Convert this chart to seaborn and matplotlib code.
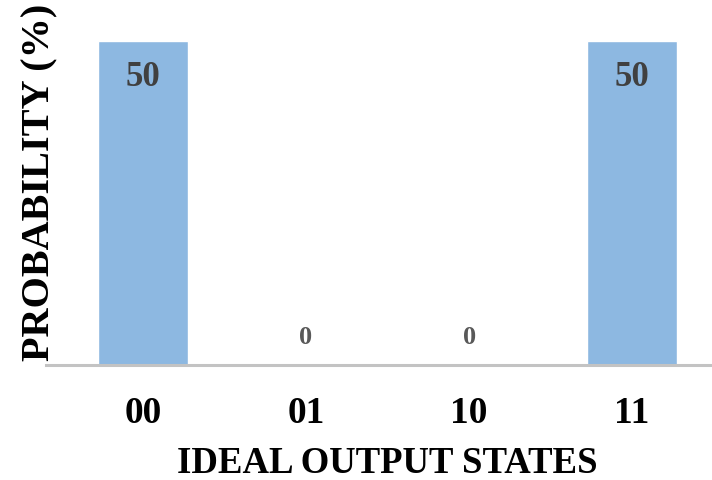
import matplotlib
matplotlib.use("Agg")
import matplotlib.pyplot as plt
import seaborn as sns
import pandas as pd

# Measured outcome distribution for a two-qubit Bell-state circuit
states = ["00", "01", "10", "11"]
probability = [50, 0, 0, 50]

bar_color = "#8DB8E1"
label_dark = "#404040"
label_gray = "#595959"
axis_gray = "#C3C3C3"

sns.set_theme(style="white")
plt.rcParams["font.family"] = ["Liberation Serif", "DejaVu Serif"]
plt.rcParams["font.weight"] = "bold"

df = pd.DataFrame({"state": states, "prob": probability})

fig = plt.figure(figsize=(7.12, 4.8), dpi=100)
ax = fig.add_axes([46 / 712, 115 / 480, 666 / 712, 324 / 480])

sns.barplot(data=df, x="state", y="prob", color=bar_color, width=0.55,
            saturation=1, ax=ax)

ax.set_xlim(-0.595, 3.49)
ax.set_ylim(0, 50)

# value labels: inside the top of tall bars, just above the axis for empty ones
for patch, val in zip(ax.patches, probability):
    cx = patch.get_x() + patch.get_width() / 2
    if val > 0:
        ax.annotate(f"{val}", (cx, val), xytext=(0, -37), textcoords="offset pixels",
                    ha="center", va="center", fontsize=25, fontweight="bold",
                    color=label_dark)
    else:
        ax.annotate(f"{val}", (cx, val), xytext=(0, 27), textcoords="offset pixels",
                    ha="center", va="center", fontsize=19, fontweight="bold",
                    color=label_gray)

for side in ["left", "right", "top"]:
    ax.spines[side].set_visible(False)
ax.spines["bottom"].set_color(axis_gray)
ax.spines["bottom"].set_linewidth(2.2)

ax.set_yticks([])
ax.tick_params(axis="x", length=0, pad=22, labelsize=27)
for lbl in ax.get_xticklabels():
    lbl.set_fontweight("bold")
    lbl.set_color("black")

ax.set_xlabel("IDEAL OUTPUT STATES", fontsize=26.5, fontweight="bold", color="black",
              va="center")
ax.xaxis.set_label_coords(0.513, -0.303)

ax.set_ylabel("PROBABILITY (%)", fontsize=29, fontweight="bold", color="black",
              va="center")
ax.yaxis.set_label_coords(-0.009, 0.565)

fig.savefig("out.png", dpi=100)
